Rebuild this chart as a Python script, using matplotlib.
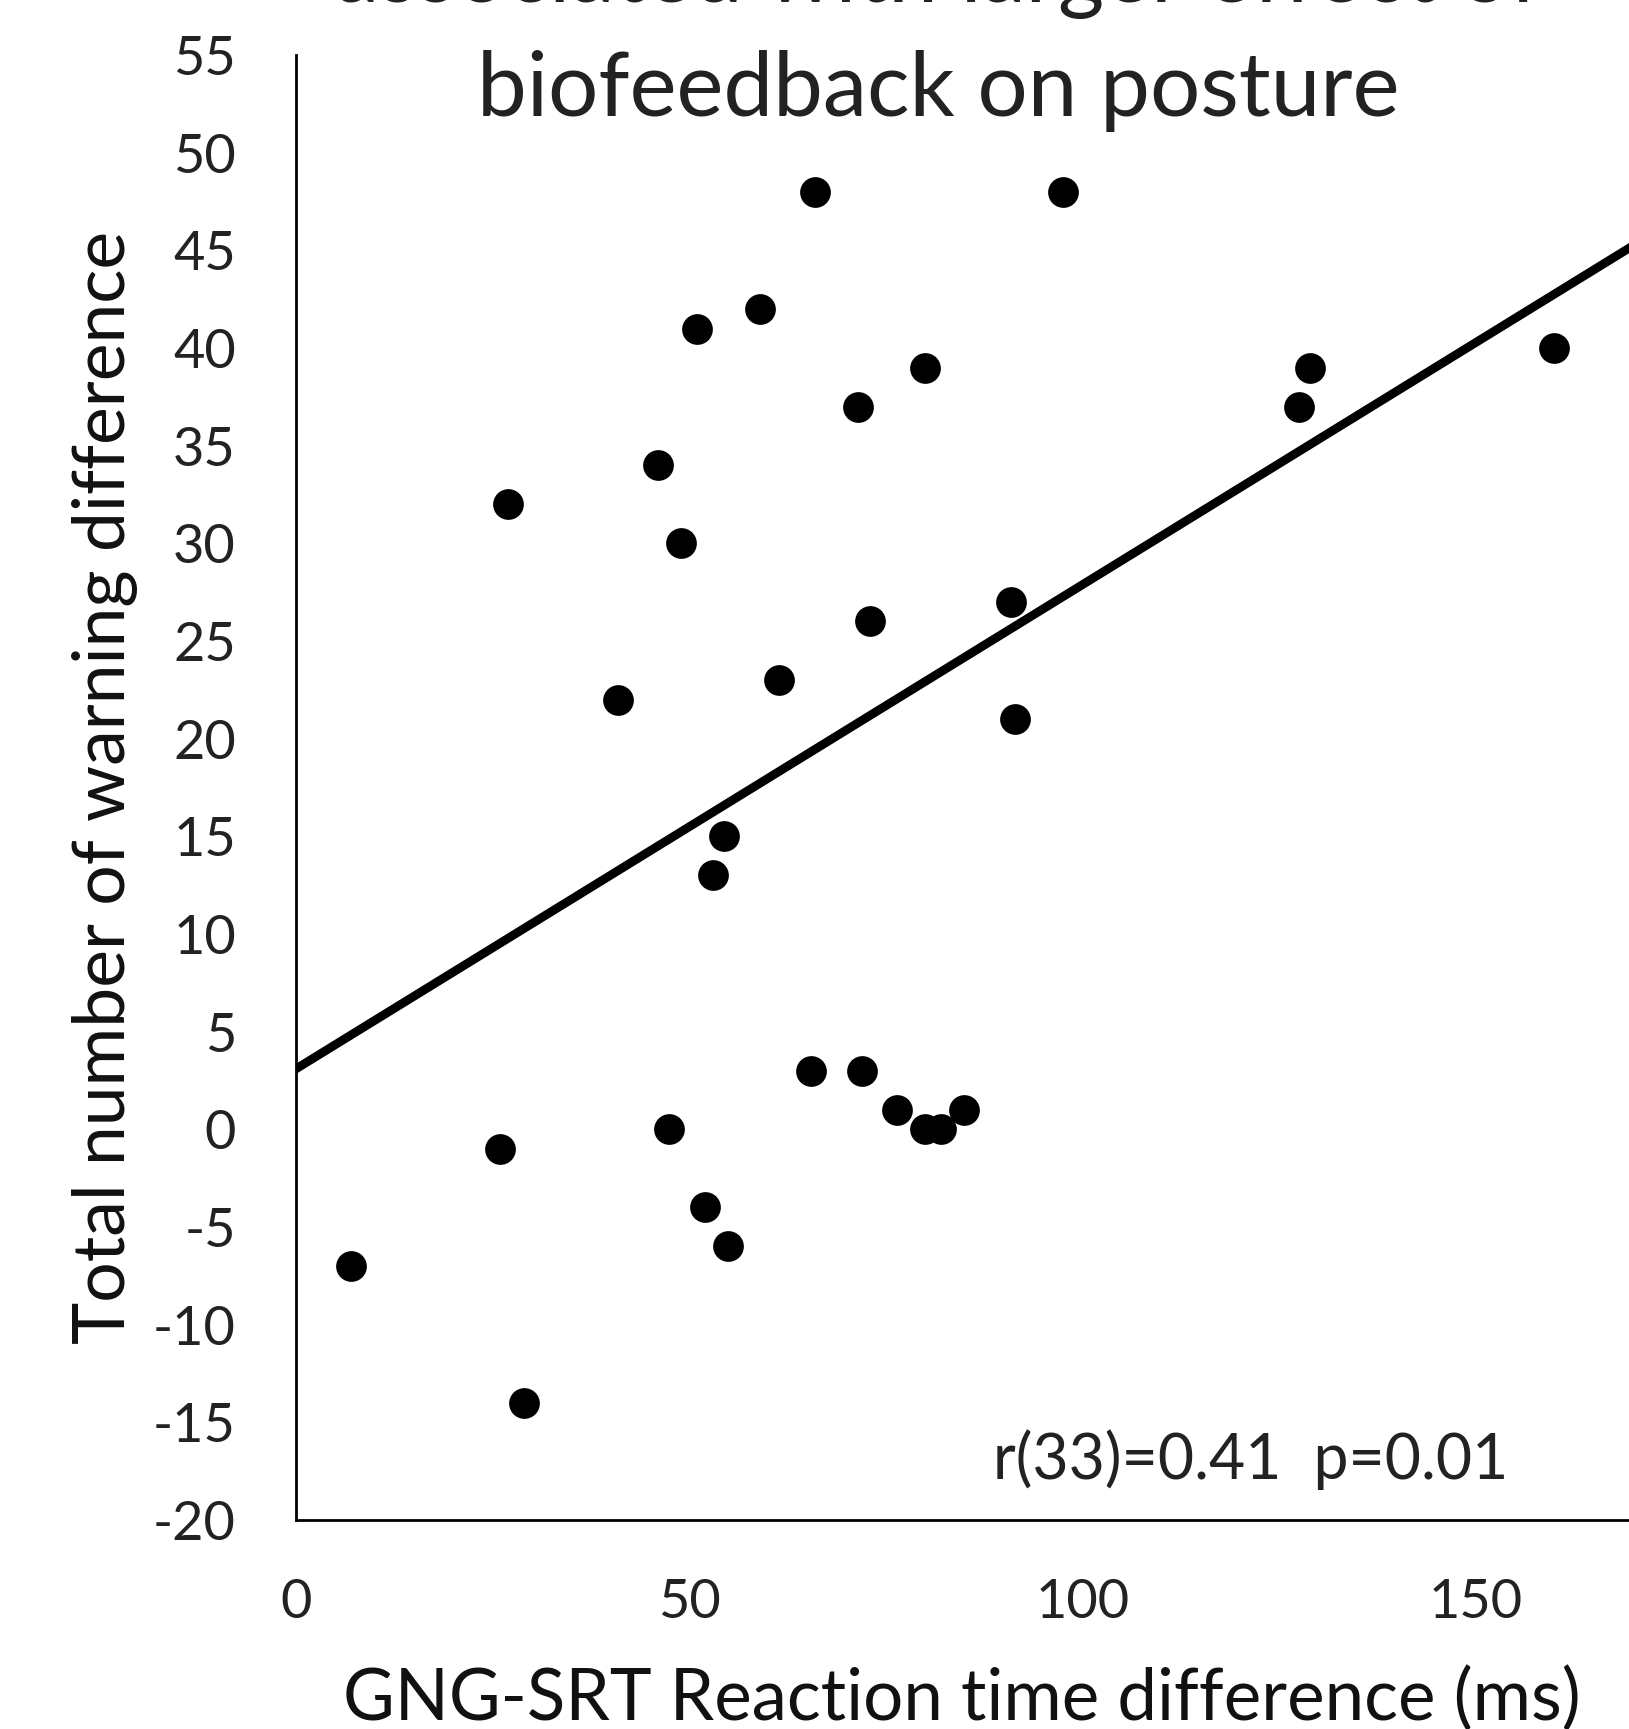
import numpy as np
import matplotlib
matplotlib.use("Agg")
import matplotlib.pyplot as plt

plt.rcParams['font.family'] = ['Lato', 'DejaVu Sans']
plt.rcParams['axes.unicode_minus'] = False

# reaction time difference (ms) and warning difference
rt_diff = [7, 26, 27, 29, 41, 46, 47.5, 49, 51, 52, 53, 54.5, 55, 59, 61.5,
           65.5, 66, 71.5, 72, 73, 76.5, 80, 80, 82, 85, 91, 91.5, 97.5,
           127.5, 129, 160]
warn_diff = [-7, -1, 32, -14, 22, 34, 0, 30, 41, -4, 13, 15, -6, 42, 23,
             3, 48, 37, 3, 26, 1, 39, 0, 0, 1, 27, 21, 48,
             37, 39, 40]

fit_intercept = 3.08
fit_slope = 0.248
y_ticks = list(range(-20, 56, 5))
x_ticks = [0, 50, 100, 150]

fig = plt.figure(figsize=(16.29, 17.29), dpi=100)
ax = fig.add_axes([0.1815, 0.121, 0.8185, 0.8471])

ax.scatter(rt_diff, warn_diff, s=490, color='black', zorder=3, linewidths=0)
xx = np.array([0, 169.5])
ax.plot(xx, fit_intercept + fit_slope * xx, color='black', lw=6.3, zorder=2)

ax.set_xlim(0, 169.5)
ax.set_ylim(-20, 55)
ax.set_xticks(x_ticks)
ax.set_yticks(y_ticks)
ax.tick_params(length=0, labelsize=39, colors='#222222')
ax.tick_params(axis='y', pad=43)
ax.tick_params(axis='x', pad=42)
for s in ['top', 'right']:
    ax.spines[s].set_visible(False)
ax.spines['left'].set_linewidth(2.0)
ax.spines['bottom'].set_linewidth(2.0)

ax.set_xlabel('GNG-SRT Reaction time difference (ms)', fontsize=51,
              va='baseline', color='#111111')
ax.xaxis.set_label_coords(0.5, -0.1367)
ax.set_ylabel('Total number of warning difference', fontsize=51.5,
              va='baseline', color='#111111')
ax.yaxis.set_label_coords(-0.128, 0.5)

ax.text(88.6, -17.9, 'r(33)=0.41  p=0.01', fontsize=45, va='baseline',
        ha='left', color='#222222')

fig.text(0.576, 0.9991, 'associated with larger effect of', fontsize=64,
         ha='center', va='baseline', color='#222222')
fig.text(0.576, 0.933, 'biofeedback on posture', fontsize=64,
         ha='center', va='baseline', color='#222222')

fig.savefig('out.png', dpi=100)
